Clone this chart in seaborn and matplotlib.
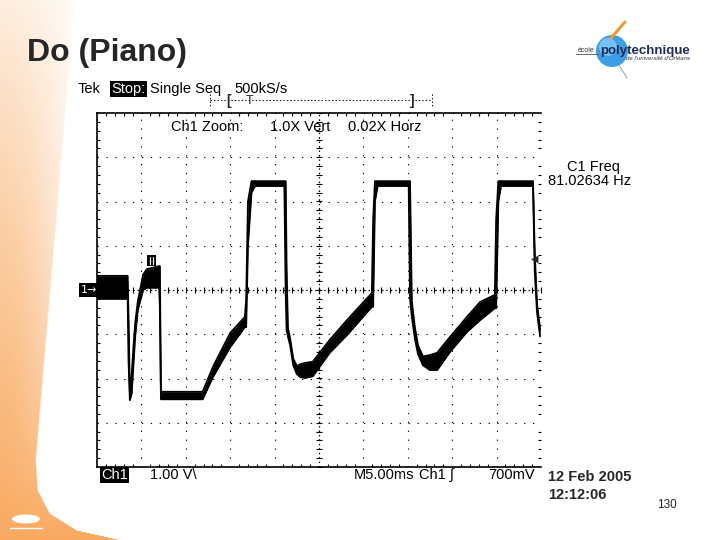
import numpy as np
import pandas as pd
import seaborn as sns
import matplotlib.pyplot as plt
from matplotlib.patches import Rectangle, Ellipse
from matplotlib.lines import Line2D
from matplotlib.ticker import MultipleLocator

# --- Trace (time in ms, upper/lower edge of the noisy trace in V) ---
TIME_MS = [0.0, 3.45, 3.55, 3.70, 3.90, 4.10, 4.30, 4.60, 5.20, 5.60, 7.00, 7.08, 7.20,
           11.90, 13.05, 15.00, 16.65, 16.80, 17.00, 17.40, 17.80, 21.10, 21.25, 21.35,
           21.50, 21.75, 22.10, 22.50, 22.90, 23.40, 24.30, 26.20, 28.15, 30.95, 31.10,
           31.30, 31.60, 35.10, 35.25, 35.45, 35.80, 36.15, 36.70, 37.50, 38.30, 39.75,
           41.65, 43.15, 44.80, 44.95, 45.20, 45.50, 49.10, 49.30, 49.55, 49.90]
TRACE_HIGH_V = [0.32, 0.32, -0.6, -2.30, -1.95, -1.30, -0.75, -0.25, 0.35, 0.47, 0.54, 0.54, -2.30,
                -2.30, -1.74, -0.97, -0.61, -0.20, 2.00, 2.46, 2.46, 2.46, 2.46, 0.50,
                -0.85, -1.10, -1.55, -1.72, -1.68, -1.65, -1.62, -1.13, -0.68, -0.07, 1.60,
                2.46, 2.46, 2.46, 2.46, -0.25, -0.85, -1.25, -1.50, -1.47, -1.42, -1.06,
                -0.61, -0.27, -0.11, 1.60, 2.46, 2.46, 2.46, 0.80, -0.30, -0.90]
TRACE_LOW_V = [-0.20, -0.20, -1.6, -2.49, -2.35, -1.70, -1.05, -0.45, 0.00, 0.05, 0.05, -0.40, -2.47,
               -2.47, -1.97, -1.29, -0.84, -0.84, 1.00, 2.20, 2.35, 2.35, -0.10, -0.90,
               -1.05, -1.25, -1.70, -1.90, -1.97, -1.99, -1.95, -1.42, -1.02, -0.38, -0.38,
               2.00, 2.35, 2.35, -0.20, -0.60, -1.10, -1.45, -1.70, -1.81, -1.81, -1.40,
               -0.95, -0.68, -0.41, -0.41, 2.00, 2.35, 2.35, 0.40, -0.50, -1.05]

SCREEN_TIME_MS = (0, 50)
SCREEN_VOLTS = (-4, 4)
TIME_PER_DIV = 5
VOLT_PER_DIV = 1
TRIGGER_LEVEL_V = 0.7

TITLE = "Do (Piano)"
PAGE_NUMBER = "130"
DATE_TEXT = "12 Feb 2005"
TIME_TEXT = "12:12:06"

W, H = 720, 540


def fx(x):
    return x / W


def fy(y):
    return 1 - y / H


sns.set_theme(style="white")
plt.rcParams['font.family'] = ['Liberation Sans', 'DejaVu Sans']
plt.rcParams['lines.scale_dashes'] = False

fig = plt.figure(figsize=(7.2, 5.4), dpi=100)
fig.patch.set_facecolor('white')

# --- slide background: orange band on the left ---
bg = fig.add_axes([0, 0, 1, 1], zorder=-10)
yy, xx = np.mgrid[0:H, 0:W].astype(float)
edge = np.interp(yy[:, 0], [0, 460, 490, 513, 530, 540], [75, 36, 38, 50, 77, 122])[:, None]
rel = yy / H
strength = 0.18 + 0.72 * rel ** 0.9
fade = 1 - 0.85 * (1 - rel) * np.clip(xx / edge, 0, 1) ** 1.6
alpha = strength * fade * np.clip((edge - xx) / 1.5, 0, 1)
img = np.zeros((H, W, 4))
img[..., 0] = 248 / 255
img[..., 1] = 160 / 255
img[..., 2] = 78 / 255
img[..., 3] = alpha
bg.imshow(img, extent=[0, W, H, 0], aspect='auto', interpolation='bilinear')
bg.set_xlim(0, W)
bg.set_ylim(H, 0)
bg.axis('off')

# small white mark in the orange corner
fig.add_artist(Ellipse((fx(26), fy(519)), 28 / W, 9 / H, transform=fig.transFigure,
                       facecolor='white', edgecolor='none'))
fig.add_artist(Line2D([fx(10), fx(42)], [fy(528), fy(528)], color='white', lw=1))

# --- oscilloscope screen ---
ax = fig.add_axes([fx(97), fy(467), 444 / W, 354 / H])
ax.set_facecolor('white')
ax.set_xlim(*SCREEN_TIME_MS)
ax.set_ylim(*SCREEN_VOLTS)
ax.xaxis.set_major_locator(MultipleLocator(TIME_PER_DIV))
ax.yaxis.set_major_locator(MultipleLocator(VOLT_PER_DIV))
ax.xaxis.set_minor_locator(MultipleLocator(TIME_PER_DIV / 5))
ax.yaxis.set_minor_locator(MultipleLocator(VOLT_PER_DIV / 5))
ax.tick_params(which='major', length=0, labelbottom=False, labelleft=False)
ax.tick_params(which='minor', direction='in', length=2.5, width=0.8, color='black',
               top=True, right=True, bottom=True, left=True)
ax.grid(which='major', color='black', linestyle=(0, (0.9, 5.5)), linewidth=0.8)
for side in ['top', 'left', 'bottom']:
    ax.spines[side].set_color('black')
    ax.spines[side].set_linewidth(1.2)
ax.spines['right'].set_visible(False)

# centre graticule with fine ticks
mid_t = sum(SCREEN_TIME_MS) / 2
ax.axhline(0, color='black', linestyle=(0, (1, 2.2)), lw=0.9)
ax.axvline(mid_t, color='black', linestyle=(0, (1, 2.2)), lw=0.9)
fine_t = np.arange(SCREEN_TIME_MS[0], SCREEN_TIME_MS[1] + 0.01, TIME_PER_DIV / 5)
fine_v = np.arange(SCREEN_VOLTS[0], SCREEN_VOLTS[1] + 0.01, VOLT_PER_DIV / 5)
ax.plot(fine_t, np.zeros_like(fine_t), ls='none', marker='|', ms=4.5, mew=0.8, color='black')
ax.plot(np.full_like(fine_v, mid_t), fine_v, ls='none', marker='_', ms=4.5, mew=0.8, color='black')

# trace
trace = pd.DataFrame({'t': TIME_MS, 'hi': TRACE_HIGH_V, 'lo': TRACE_LOW_V})
ax.fill_between(trace['t'], trace['lo'], trace['hi'], color='black', lw=0, zorder=5)
sns.lineplot(data=trace, x='t', y='hi', ax=ax, color='black', lw=1.3, sort=False,
             estimator=None, zorder=6)
sns.lineplot(data=trace, x='t', y='lo', ax=ax, color='black', lw=1.3, sort=False,
             estimator=None, zorder=6)
ax.set_xlabel('')
ax.set_ylabel('')

# --- scope annotations ---
scope_kw = dict(fontsize=10.5, color='black', va='baseline')
fig.text(fx(27), fy(61), TITLE, fontsize=23, fontweight='bold', va='baseline')
fig.text(fx(78), fy(93), 'Tek', **scope_kw)
fig.text(fx(111), fy(93), 'Stop:', fontsize=10.5, color='white', va='baseline',
         bbox=dict(facecolor='black', edgecolor='none', pad=1.0))
fig.text(fx(150), fy(93), 'Single Seq', **scope_kw)
fig.text(fx(234), fy(93), '500kS/s', **scope_kw)

fig.add_artist(Line2D([fx(210), fx(432)], [fy(100), fy(100)], color='black', lw=0.7,
                      linestyle=(0, (1, 1.5))))
for xb in [210, 432]:
    fig.add_artist(Line2D([fx(xb), fx(xb)], [fy(94), fy(107)], color='black', lw=0.7,
                          linestyle=(0, (1, 1.5))))
fig.text(fx(226), fy(101), '[', fontsize=10, fontweight='bold', va='center')
fig.text(fx(246), fy(101), 'T', fontsize=9, va='center')
fig.text(fx(410), fy(101), ']', fontsize=10, fontweight='bold', va='center')

fig.text(fx(171), fy(131), 'Ch1 Zoom:', **scope_kw)
fig.text(fx(270), fy(131), '1.0X Vert', **scope_kw)
fig.text(fx(348), fy(131), '0.02X Horz', **scope_kw)

fig.text(fx(567), fy(171), 'C1 Freq', **scope_kw)
fig.text(fx(548), fy(185), '81.02634 Hz', **scope_kw)

fig.text(fx(101), fy(479), 'Ch1', fontsize=10.5, color='white', va='baseline',
         bbox=dict(facecolor='black', edgecolor='none', pad=1.0))
fig.text(fx(150), fy(479), '1.00 V\\', **scope_kw)
fig.text(fx(354), fy(479), 'M5.00ms', **scope_kw)
fig.text(fx(419), fy(479), 'Ch1 \u222b', **scope_kw)
fig.text(fx(488), fy(479), '700mV', **scope_kw)
fig.text(fx(548), fy(481), DATE_TEXT, fontsize=10.5, fontweight='bold', va='baseline')
fig.text(fx(548), fy(499), TIME_TEXT, fontsize=10.5, fontweight='bold', va='baseline')
fig.text(fx(657), fy(508), PAGE_NUMBER, fontsize=8.5, va='baseline')

# ground marker, trigger position and trigger level markers
fig.text(fx(81), fy(290), '1\u2192', fontsize=8, color='white', va='center',
         family=['DejaVu Sans'], bbox=dict(facecolor='black', edgecolor='none', pad=1.2))
fig.add_artist(Rectangle((fx(147), fy(266)), 9 / W, 11 / H, transform=fig.transFigure,
                         facecolor='black', edgecolor='none'))
for xm in [150, 153]:
    fig.add_artist(Line2D([fx(xm), fx(xm)], [fy(257), fy(264)], color='white', lw=0.9))
trig_y = ax.transData.transform((0, TRIGGER_LEVEL_V))[1] / fig.bbox.height
fig.text(fx(538), trig_y, '\u25c0', fontsize=7, ha='right', va='center', family=['DejaVu Sans'])

# --- school logo ---
fig.add_artist(Line2D([fx(611), fx(625)], [fy(38), fy(22)], color='#F29A2E', lw=2.2,
                      solid_capstyle='round'))
fig.add_artist(Line2D([fx(619), fx(627)], [fy(65), fy(78)], color='#8a8a8a', lw=0.6))
fig.add_artist(Ellipse((fx(612), fy(51)), 32 / W, 32 / H, transform=fig.transFigure,
                       facecolor='#3F9FE5', edgecolor='none'))
fig.add_artist(Ellipse((fx(608), fy(47)), 18 / W, 18 / H, transform=fig.transFigure,
                       facecolor='#8ED0F8', edgecolor='none', alpha=0.7))
fig.text(fx(578), fy(52), '\u00e9cole', fontsize=5, color='#333333', va='baseline')
fig.add_artist(Line2D([fx(576), fx(598)], [fy(54), fy(54)], color='#555555', lw=0.6))
fig.text(fx(600), fy(54), 'polytechnique', fontsize=9.5, fontweight='bold',
         color='#1E2B57', va='baseline')
fig.text(fx(626), fy(60), "de l'universit\u00e9 d'Orl\u00e9ans", fontsize=4.3,
         style='italic', color='#333333', va='baseline')

fig.savefig('out.png', dpi=100)
